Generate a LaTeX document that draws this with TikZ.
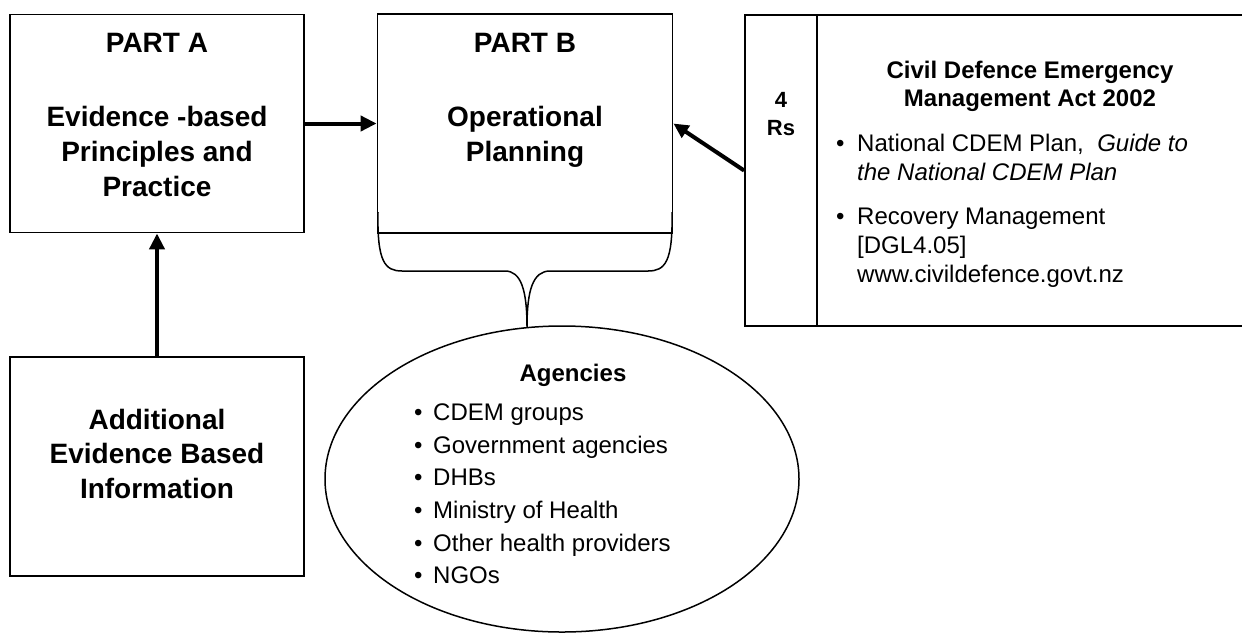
\documentclass[tikz,border=0pt]{standalone}
\usepackage{fontspec}
\setmainfont{Liberation Sans}
\usetikzlibrary{arrows.meta,shapes.geometric}
\newcommand{\bulA}{\makebox[19pt][l]{•}}
\newcommand{\bulB}{\makebox[21pt][l]{•}}
\begin{document}
\begin{tikzpicture}[x=1pt,y=-1pt,
  box/.style={draw,line width=1.8pt,inner sep=0pt},
  bigtext/.style={inner sep=0pt,align=center,font=\fontsize{28}{35}\selectfont\bfseries},
  midbold/.style={inner sep=0pt,align=center,font=\fontsize{24}{28}\selectfont\bfseries},
  midtext/.style={inner sep=0pt,align=left,font=\fontsize{24}{29}\selectfont},
  arr/.style={line width=4pt,-{Triangle[length=16pt,width=15pt]}},
  bracestyle/.style={line width=1.5pt}]
\useasboundingbox (0,0) rectangle (1242,633);
\clip (0,0) rectangle (1242,633);

% boxes
\node[box,minimum width=294pt,minimum height=218pt] (pa) at (157,123.5) {};
\node[box,minimum width=295pt,minimum height=219pt] (pb) at (525,123.5) {};
\node[box,minimum width=294pt,minimum height=219pt] (add) at (157,466.5) {};
\node[box,minimum width=555pt,minimum height=311pt] (rb) at (1022.5,170.5) {};
\coordinate (dtop) at (817,15);
\coordinate (dbot) at (817,326);
\draw[line width=1.8pt] (dtop) -- (dbot);

% ellipse
\node[draw,ellipse,line width=1.5pt,inner sep=0pt,minimum width=474pt,minimum height=306pt] (ag) at (562,479) {};

% texts
\node[bigtext] (patext) at (157,115) {PART A\\[39pt]Evidence -based\\Principles and\\Practice};
\node[bigtext] (pbtext) at (525,100.5) {PART B\\[39pt]Operational\\Planning};
\node[bigtext,font=\fontsize{28}{34.5}\selectfont\bfseries] (addtext) at (157,453.5) {Additional\\Evidence Based\\Information};
\node[midbold,font=\fontsize{22}{28}\selectfont\bfseries] (rs) at (781,114) {4\\Rs};
\node[midbold] (cdtitle) at (1030,86.5) {Civil Defence Emergency\\Management Act 2002};
\node[midtext,anchor=north west] (cdlist) at (836,134.4) {\bulB National CDEM Plan,\ \ \textit{Guide to}\\
\hspace*{21pt}\textit{the National CDEM Plan}\\[15pt]
\bulB Recovery Management\\
\hspace*{21pt}[DGL4.05]\\
\hspace*{21pt}www.civildefence.govt.nz};
\node[midbold,anchor=base] (agtitle) at (573,381.6) {Agencies};
\node[midtext,anchor=north west,font=\fontsize{24}{32.7}\selectfont] (aglist) at (414,403.4) {\bulA CDEM groups\\
\bulA Government agencies\\
\bulA DHBs\\
\bulA Ministry of Health\\
\bulA Other health providers\\
\bulA NGOs};

% connectors
\draw[arr] (pa.east) -- (pb.west);
\draw[arr,line width=4.5pt] (add.north) -- (pa.south);
\draw[arr,-{Triangle[length=15pt,width=14pt]}] (rb.west) -- (pb.east);

% brace under Part B
\coordinate (bl) at (378,212);
\coordinate (br) at (672,212);
\coordinate (btip) at (527,327);
\draw[bracestyle] (bl) .. controls (377,262) and (385,271) .. (402,271) -- (505,271)
  .. controls (521,271) and (527,290) .. (btip)
  .. controls (527,290) and (533,271) .. (550,271) -- (648,271)
  .. controls (665,271) and (673,262) .. (br);
\end{tikzpicture}
\end{document}
